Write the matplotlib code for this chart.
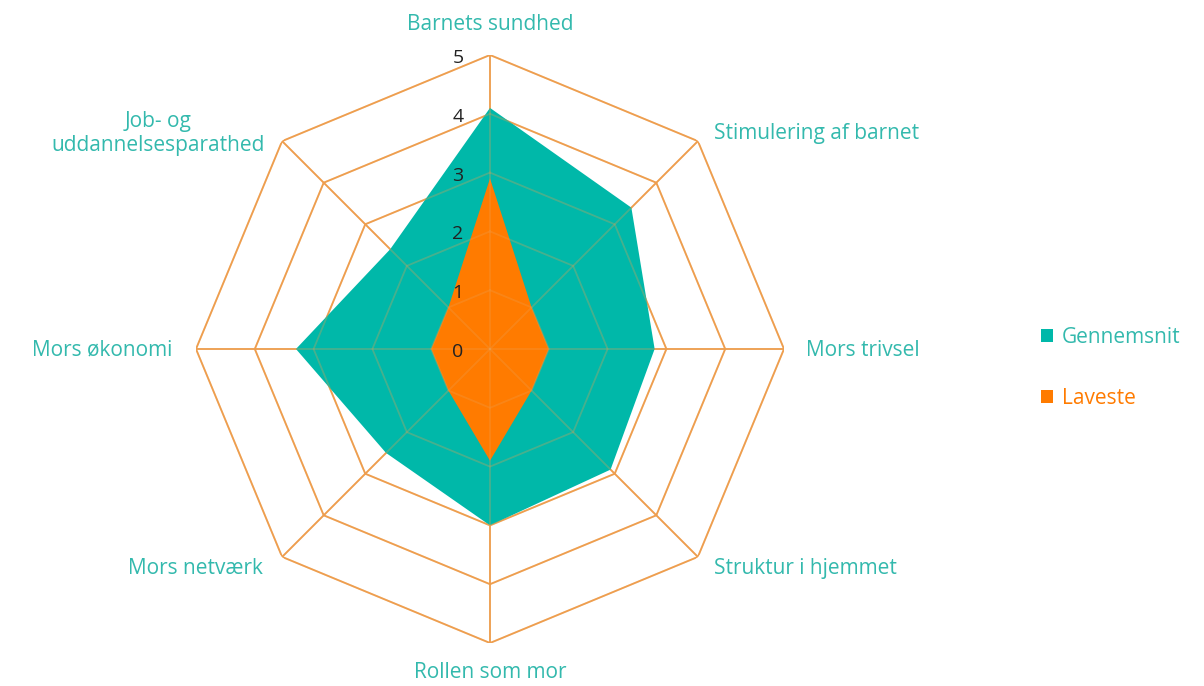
import numpy as np
import matplotlib
matplotlib.use("Agg")
import matplotlib.pyplot as plt
from matplotlib.patches import Patch

categories = ["Barnets sundhed", "Stimulering af barnet", "Mors trivsel",
              "Struktur i hjemmet", "Rollen som mor", "Mors netværk",
              "Mors økonomi", "Job- og\nuddannelsesparathed"]
gennemsnit = [4.1, 3.4, 2.8, 2.9, 3.0, 2.5, 3.3, 2.4]
laveste = [2.9, 1.0, 1.0, 1.0, 1.9, 1.0, 1.0, 1.0]
ring_values = [1, 2, 3, 4, 5]
tick_labels = ["0", "1", "2", "3", "4", "5"]

TEAL = "#00B8A9"
ORANGE = "#FF7B00"
GRID = "#EE9E4E"
TEXT_TEAL = "#33B9AD"

plt.rcParams['font.family'] = ['Open Sans', 'DejaVu Sans']

fig = plt.figure(figsize=(12.04, 6.86), dpi=100)
ax = fig.add_axes([196/1204, 43/686, 588/1204, 588/686], projection='polar')
ax.set_theta_offset(np.pi/2)
ax.set_theta_direction(-1)
ax.set_ylim(0, 5)
ax.grid(False)
ax.set_xticks([])
ax.set_yticks([])
ax.spines['polar'].set_visible(False)
ax.patch.set_alpha(0)

n = len(categories)
angles = np.arange(n) * 2*np.pi/n
closed = np.append(angles, angles[0])

# grid rings (octagons) and spokes: full below the fills, faint on top
for z, al in [(1, 1.0), (4, 0.3)]:
    for rv in ring_values:
        ax.plot(closed, [rv]*(n+1), color=GRID, lw=1.3, zorder=z, alpha=al)
    for a in angles:
        ax.plot([a, a], [0, 5], color=GRID, lw=1.3, zorder=z, alpha=al)

ax.fill(closed, np.append(gennemsnit, gennemsnit[0]), color=TEAL, lw=0, zorder=2)
ax.fill(closed, np.append(laveste, laveste[0]), color=ORANGE, lw=0, zorder=3)

# radial tick labels
for i, lab in enumerate(tick_labels):
    ax.annotate(lab, xy=(0, i), xytext=(-32, -3), textcoords='offset pixels',
                ha='center', va='center', fontsize=14, color='#222222', zorder=5)

# category labels
offsets = [(0, 30, 'center'), (16, 8, 'left'), (22, -2, 'left'), (16, -12, 'left'),
           (0, -30, 'center'), (-19, -12, 'right'), (-24, -1, 'right'), (-17, 8, 'right')]
for a, lab, (dx, dy, ha) in zip(angles, categories, offsets):
    ax.annotate(lab, xy=(a, 5), xytext=(dx, dy), textcoords='offset pixels',
                ha=ha, va='center', fontsize=15, color=TEXT_TEAL,
                multialignment='center', annotation_clip=False)

handles = [Patch(facecolor=TEAL, edgecolor='none', label='Gennemsnit'),
           Patch(facecolor=ORANGE, edgecolor='none', label='Laveste')]
leg = fig.legend(handles=handles, loc='center left', bbox_to_anchor=(1022/1204, 1-368/686),
                 frameon=False, fontsize=15, handlelength=0.6, handleheight=0.6,
                 handletextpad=0.4, labelspacing=1.9)
for t, c in zip(leg.get_texts(), [TEXT_TEAL, ORANGE]):
    t.set_color(c)

fig.savefig("out.png", dpi=100)
